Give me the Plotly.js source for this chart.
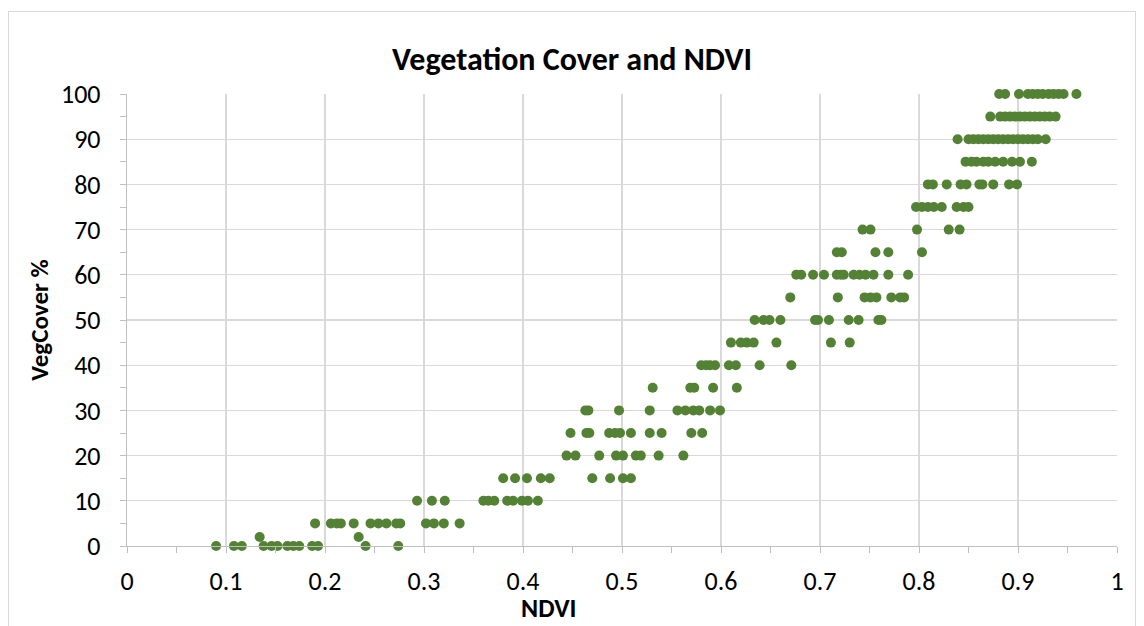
<!DOCTYPE html>
<html>
<head>
<meta charset="utf-8">
<script src="https://cdn.plot.ly/plotly-3.0.1.min.js"></script>
<style>
  html, body { margin: 0; padding: 0; background: #fff; overflow: hidden; }
  #chart { position: absolute; left: 8px; top: 11px; width: 1126px; height: 620px; border: 1px solid #d9d9d9; }
</style>
</head>
<body>
<div id="chart"></div>
<script>
// NDVI values and matching vegetation cover (%)
const ndvi = [
  0.090, 0.108, 0.116, 0.138, 0.146, 0.152, 0.162, 0.168, 0.174, 0.187, 0.193, 0.241, 0.274,
  0.134, 0.234,
  0.190, 0.206, 0.212, 0.216, 0.229, 0.246, 0.254, 0.262, 0.272, 0.276, 0.302, 0.310, 0.320, 0.336,
  0.293, 0.308, 0.321, 0.360, 0.365, 0.371, 0.384, 0.390, 0.399, 0.405, 0.415,
  0.380, 0.392, 0.404, 0.418, 0.427, 0.470, 0.488, 0.501, 0.509,
  0.444, 0.453, 0.477, 0.494, 0.501, 0.514, 0.519, 0.537, 0.562,
  0.448, 0.464, 0.467, 0.487, 0.493, 0.498, 0.509, 0.528, 0.540, 0.570, 0.581,
  0.463, 0.466, 0.497, 0.528, 0.556, 0.564, 0.572, 0.578, 0.589, 0.599,
  0.531, 0.569, 0.573, 0.592, 0.616,
  0.580, 0.585, 0.589, 0.594, 0.608, 0.615, 0.639, 0.671,
  0.610, 0.620, 0.626, 0.633, 0.656, 0.711, 0.730,
  0.634, 0.643, 0.649, 0.660, 0.695, 0.698, 0.709, 0.729, 0.739, 0.759, 0.762,
  0.670, 0.718, 0.745, 0.751, 0.757, 0.772, 0.781, 0.785,
  0.676, 0.681, 0.693, 0.704, 0.717, 0.721, 0.724, 0.734, 0.740, 0.746, 0.754, 0.769, 0.789,
  0.717, 0.722, 0.756, 0.769, 0.803,
  0.743, 0.751, 0.798, 0.830, 0.841,
  0.797, 0.803, 0.809, 0.815, 0.823, 0.838, 0.845, 0.850,
  0.809, 0.814, 0.828, 0.842, 0.848, 0.861, 0.864, 0.875, 0.891, 0.899,
  0.847, 0.853, 0.858, 0.865, 0.870, 0.877, 0.885, 0.894, 0.902, 0.914,
  0.839, 0.850, 0.855, 0.860, 0.865, 0.870, 0.875, 0.880, 0.885, 0.890, 0.895, 0.900, 0.905, 0.910, 0.915, 0.920, 0.928,
  0.872, 0.882, 0.887, 0.892, 0.897, 0.902, 0.907, 0.912, 0.917, 0.922, 0.927, 0.932, 0.938,
  0.881, 0.887, 0.901, 0.910, 0.915, 0.920, 0.925, 0.931, 0.936, 0.941, 0.946, 0.959
];
const vegCover = [
  0,0,0,0,0,0,0,0,0,0,0,0,0,
  2,2,
  5,5,5,5,5,5,5,5,5,5,5,5,5,5,
  10,10,10,10,10,10,10,10,10,10,10,
  15,15,15,15,15,15,15,15,15,
  20,20,20,20,20,20,20,20,20,
  25,25,25,25,25,25,25,25,25,25,25,
  30,30,30,30,30,30,30,30,30,30,
  35,35,35,35,35,
  40,40,40,40,40,40,40,40,
  45,45,45,45,45,45,45,
  50,50,50,50,50,50,50,50,50,50,50,
  55,55,55,55,55,55,55,55,
  60,60,60,60,60,60,60,60,60,60,60,60,60,
  65,65,65,65,65,
  70,70,70,70,70,
  75,75,75,75,75,75,75,75,
  80,80,80,80,80,80,80,80,80,80,
  85,85,85,85,85,85,85,85,85,85,
  90,90,90,90,90,90,90,90,90,90,90,90,90,90,90,90,90,
  95,95,95,95,95,95,95,95,95,95,95,95,95,
  100,100,100,100,100,100,100,100,100,100,100,100
];
const xTickVals = [0, 0.1, 0.2, 0.3, 0.4, 0.5, 0.6, 0.7, 0.8, 0.9, 1];
const xTickText = ['0', '0.1', '0.2', '0.3', '0.4', '0.5', '0.6', '0.7', '0.8', '0.9', '1'];
const yTickVals = [0, 10, 20, 30, 40, 50, 60, 70, 80, 90, 100];

const FONT = 'Carlito, Lato, "Open Sans", sans-serif';

const trace = {
  type: 'scatter',
  mode: 'markers',
  x: ndvi,
  y: vegCover,
  marker: { color: '#548235', size: 10 },
  cliponaxis: false,
  hoverinfo: 'x+y'
};

const layout = {
  width: 1126,
  height: 620,
  margin: { l: 118, r: 18, t: 82, b: 86 },
  paper_bgcolor: '#ffffff',
  plot_bgcolor: '#ffffff',
  showlegend: false,
  font: { family: FONT, color: '#000000', size: 26 },
  title: {
    text: '<b>Vegetation Cover and NDVI</b>',
    font: { family: FONT, size: 32, color: '#000000' },
    x: 0.5, xanchor: 'center',
    y: 0.925, yanchor: 'middle', yref: 'container'
  },
  xaxis: {
    range: [0, 1],
    tickvals: xTickVals,
    ticktext: xTickText,
    showgrid: true,
    gridcolor: '#d9d9d9',
    gridwidth: 1.3,
    zeroline: false,
    showline: true,
    linecolor: '#bfbfbf',
    linewidth: 1.3,
    ticks: 'outside',
    ticklen: 6,
    tickcolor: '#bfbfbf',
    tickfont: { family: FONT, size: 26, color: '#000000' },
    ticklabelstandoff: 5,
    minor: { dtick: 0.05, ticks: 'outside', ticklen: 6, tickcolor: '#bfbfbf', showgrid: false },
    title: { text: '' }
  },
  yaxis: {
    range: [0, 100],
    tickvals: yTickVals,
    showgrid: true,
    gridcolor: '#d9d9d9',
    gridwidth: 1.3,
    zeroline: false,
    showline: true,
    linecolor: '#bfbfbf',
    linewidth: 1.3,
    ticks: 'outside',
    ticklen: 6,
    tickcolor: '#bfbfbf',
    tickfont: { family: FONT, size: 26, color: '#000000' },
    ticklabelstandoff: 14,
    minor: { dtick: 5, ticks: 'outside', ticklen: 6, tickcolor: '#bfbfbf', showgrid: false },
    title: { text: '<b>VegCover %</b>', font: { family: FONT, size: 25, color: '#000000' }, standoff: 5 }
  },
  annotations: [{
    text: '<b>NDVI</b>',
    xref: 'paper', yref: 'paper',
    x: 0.426, y: -0.137,
    xanchor: 'center', yanchor: 'middle',
    showarrow: false,
    font: { family: FONT, size: 26, color: '#000000' }
  }]
};

Plotly.newPlot('chart', [trace], layout, { displayModeBar: false, staticPlot: true });
</script>
</body>
</html>
